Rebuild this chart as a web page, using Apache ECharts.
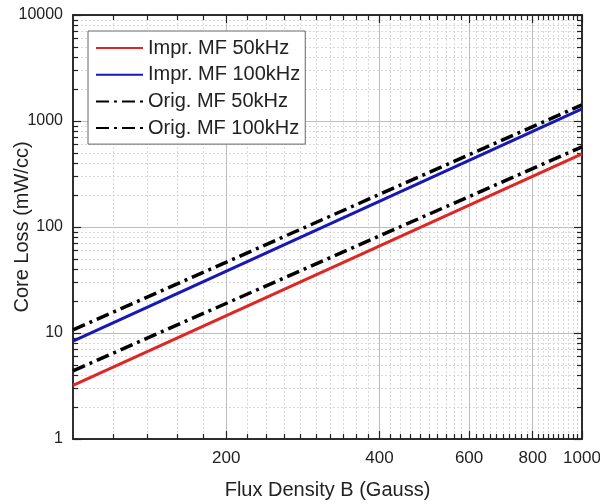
<!DOCTYPE html>
<html>
<head>
<meta charset="utf-8">
<script src="https://cdn.jsdelivr.net/npm/echarts@6/dist/echarts.min.js"></script>
<style>
html,body{margin:0;padding:0;background:#fff;}
#c{width:600px;height:504px;}
</style>
</head>
<body>
<div id="c"></div>
<script>
// Data (log-log, straight lines)
const fluxB = [100, 1000];
const imprMF50 = [3.2, 490];
const imprMF100 = [8.4, 1300];
const origMF50 = [4.4, 570];
const origMF100 = [10.7, 1420];

const seriesNames = ['Impr. MF 50kHz', 'Impr. MF 100kHz', 'Orig. MF 50kHz', 'Orig. MF 100kHz'];

const xMajorTicks = [200, 400, 600, 800, 1000];
const xMinorTicks = [];
for (let v = 120; v < 1000; v += 20) { if (xMajorTicks.indexOf(v) < 0) xMinorTicks.push(v); }
const yMajorTicks = [1, 10, 100, 1000, 10000];
const yMinorTicks = [];
[1, 10, 100, 1000].forEach(d => { for (let k = 2; k <= 9; k++) yMinorTicks.push(d * k); });

const FONT = 'Liberation Sans, Arial, sans-serif';
const axisLineStyle = { color: '#222', width: 1.5 };

function xAxisDef(pos, major, withLabel, split) {
  return {
    type: 'log', logBase: 10, min: 100, max: 1000, position: pos,
    axisLine: { show: true, onZero: false, lineStyle: axisLineStyle },
    axisTick: { show: true, inside: true, length: major ? 8 : 5, customValues: major ? xMajorTicks : xMinorTicks, lineStyle: { color: '#222', width: 1.2 } },
    axisLabel: withLabel ? { show: true, customValues: xMajorTicks, fontSize: 17, color: '#222', fontFamily: FONT, margin: 11, formatter: v => String(Math.round(v)) } : { show: false },
    splitLine: split ? split : { show: false },
    minorTick: { show: false }, minorSplitLine: { show: false },
    name: withLabel ? 'Flux Density B (Gauss)' : '',
    nameLocation: 'middle', nameGap: 41, nameMoveOverlap: false,
    nameTextStyle: { fontSize: 20, color: '#222', fontFamily: FONT }
  };
}
function yAxisDef(pos, major, withLabel, split) {
  return {
    type: 'log', logBase: 10, min: 1, max: 10000, position: pos,
    axisLine: { show: true, onZero: false, lineStyle: axisLineStyle },
    axisTick: { show: true, inside: true, length: major ? 8 : 5, customValues: major ? yMajorTicks : yMinorTicks, lineStyle: { color: '#222', width: 1.2 } },
    axisLabel: withLabel ? { show: true, customValues: yMajorTicks, fontSize: 16, color: '#222', fontFamily: FONT, margin: 10, formatter: v => String(Math.round(v)) } : { show: false },
    splitLine: split ? split : { show: false },
    minorTick: { show: false }, minorSplitLine: { show: false },
    name: withLabel ? 'Core Loss (mW/cc)' : '',
    nameLocation: 'middle', nameGap: 41, nameMoveOverlap: false,
    nameTextStyle: { fontSize: 20, color: '#222', fontFamily: FONT }
  };
}

const solidGrid = { show: true, lineStyle: { color: '#bdbdbd', width: 1, type: 'solid' } };
const dotGrid = { show: true, lineStyle: { color: '#d9d9d9', width: 1, type: [2, 2] } };

function pairs(ys) { return fluxB.map((x, i) => [x, ys[i]]); }

const dashDot = [13, 5, 3, 5];

const option = {
  animation: false,
  backgroundColor: '#fff',
  grid: { left: 73, right: 18, top: 15, bottom: 65, containLabel: false, outerBoundsMode: 'none' },
  xAxis: [
    xAxisDef('bottom', true, true, solidGrid),
    xAxisDef('bottom', false, false, dotGrid),
    xAxisDef('top', true, false, null),
    xAxisDef('top', false, false, null)
  ],
  yAxis: [
    yAxisDef('left', true, true, solidGrid),
    yAxisDef('left', false, false, dotGrid),
    yAxisDef('right', true, false, null),
    yAxisDef('right', false, false, null)
  ],
  legend: {
    orient: 'vertical', left: 88, top: 31,
    data: seriesNames,
    itemWidth: 47, itemHeight: 14, itemGap: 6.7,
    padding: [7, 5, 6, 7],
    borderColor: '#666', borderWidth: 1, backgroundColor: '#fff',
    itemStyle: { opacity: 0, color: 'rgba(0,0,0,0)', borderWidth: 0 },
    textStyle: { fontSize: 20, color: '#222', fontFamily: FONT, lineHeight: 20 },
    z: 10
  },
  series: [
    { name: seriesNames[0], type: 'line', data: pairs(imprMF50), showSymbol: false, symbol: 'none', lineStyle: { color: '#de2626', width: 3 }, itemStyle: { color: '#de2626' } },
    { name: seriesNames[1], type: 'line', data: pairs(imprMF100), showSymbol: false, symbol: 'none', lineStyle: { color: '#1818b4', width: 3 }, itemStyle: { color: '#1818b4' } },
    { name: seriesNames[2], type: 'line', data: pairs(origMF50), showSymbol: false, symbol: 'none', lineStyle: { color: '#000', width: 3.5, type: dashDot }, itemStyle: { color: '#000' } },
    { name: seriesNames[3], type: 'line', data: pairs(origMF100), showSymbol: false, symbol: 'none', lineStyle: { color: '#000', width: 3.5, type: dashDot }, itemStyle: { color: '#000' } }
  ]
};

const chart = echarts.init(document.getElementById('c'), null, { renderer: 'canvas' });
chart.setOption(option);
</script>
</body>
</html>
